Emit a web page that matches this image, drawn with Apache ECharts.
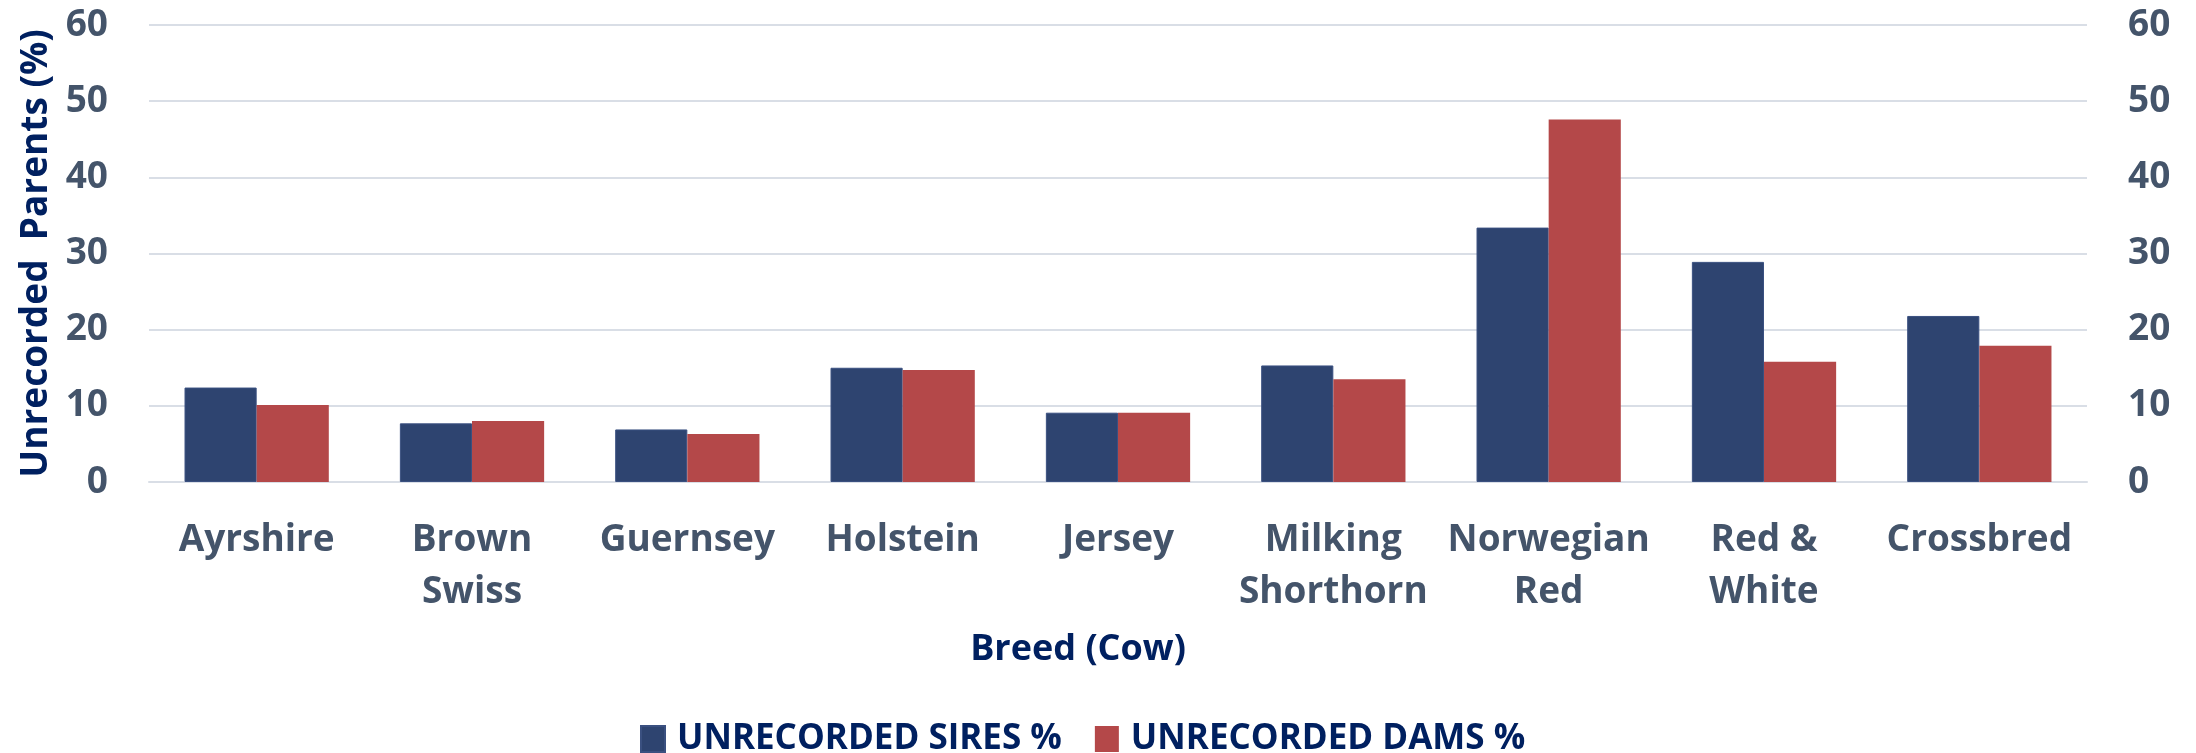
<!DOCTYPE html>
<html>
<head>
<meta charset="utf-8">
<script src="https://cdn.jsdelivr.net/npm/echarts@6/dist/echarts.min.js"></script>
<style>
html,body{margin:0;padding:0;background:#fff;}
#chart{width:2196px;height:753px;}
</style>
</head>
<body>
<div id="chart"></div>
<script>
const categories = ["Ayrshire", "Brown\nSwiss", "Guernsey", "Holstein", "Jersey", "Milking\nShorthorn", "Norwegian\nRed", "Red &\nWhite", "Crossbred"];
const siresPct = [12.4, 7.7, 6.9, 15.0, 9.1, 15.3, 33.4, 28.9, 21.8];
const damsPct = [10.1, 8.0, 6.3, 14.7, 9.1, 13.5, 47.6, 15.8, 17.9];
const seriesNames = ["UNRECORDED SIRES %", "UNRECORDED DAMS %"];
const yTicks = { min: 0, max: 60, interval: 10 };

const FONT = "Open Sans";
const tickColor = "#44546A";
const titleColor = "#002060";
const gridColor = "#D9DEE6";

const chart = echarts.init(document.getElementById('chart'), null, {renderer: 'canvas'});
const yAxisBase = {
  type: 'value', min: yTicks.min, max: yTicks.max, interval: yTicks.interval,
  axisLine: {show: false}, axisTick: {show: false},
  axisLabel: {fontFamily: FONT, fontWeight: 'bold', fontSize: 37, color: tickColor, margin: 41}
};
chart.setOption({
  animation: false,
  backgroundColor: '#ffffff',
  grid: {left: 149, right: 109, top: 25, bottom: 271, containLabel: false},
  legend: {
    data: seriesNames, left: 640, top: 720, padding: 0,
    icon: 'rect', itemWidth: 24, itemHeight: 26, itemGap: 33,
    textStyle: {fontFamily: FONT, fontWeight: 'bold', fontSize: 35, color: titleColor, lineHeight: 38, padding: [0,0,0,7]}
  },
  xAxis: {
    type: 'category', data: categories,
    axisLine: {show: true, lineStyle: {color: gridColor, width: 2}},
    axisTick: {show: false},
    axisLabel: {interval: 0, fontFamily: FONT, fontWeight: 'bold', fontSize: 37, color: tickColor, lineHeight: 52, margin: 32},
    name: 'Breed (Cow)', nameLocation: 'middle', nameGap: 148,
    nameTextStyle: {fontFamily: FONT, fontWeight: 'bold', fontSize: 36, color: titleColor, lineHeight: 40, padding: [0, 80, 0, 0]}
  },
  yAxis: [
    Object.assign({}, yAxisBase, {
      position: 'left',
      splitLine: {show: true, lineStyle: {color: gridColor, width: 2}},
      name: 'Unrecorded  Parents (%)', nameLocation: 'middle', nameGap: 94,
      nameTextStyle: {fontFamily: FONT, fontWeight: 'bold', fontSize: 37, color: titleColor}
    }),
    Object.assign({}, yAxisBase, {position: 'right', splitLine: {show: false}})
  ],
  series: [
    {name: seriesNames[0], type: 'bar', data: siresPct, barGap: '0%', barCategoryGap: '33%',
     itemStyle: {color: '#2E4470', borderColor: '#3A5080', borderWidth: 1}},
    {name: seriesNames[1], type: 'bar', data: damsPct,
     itemStyle: {color: '#B44849'}}
  ]
});
</script>
</body>
</html>
